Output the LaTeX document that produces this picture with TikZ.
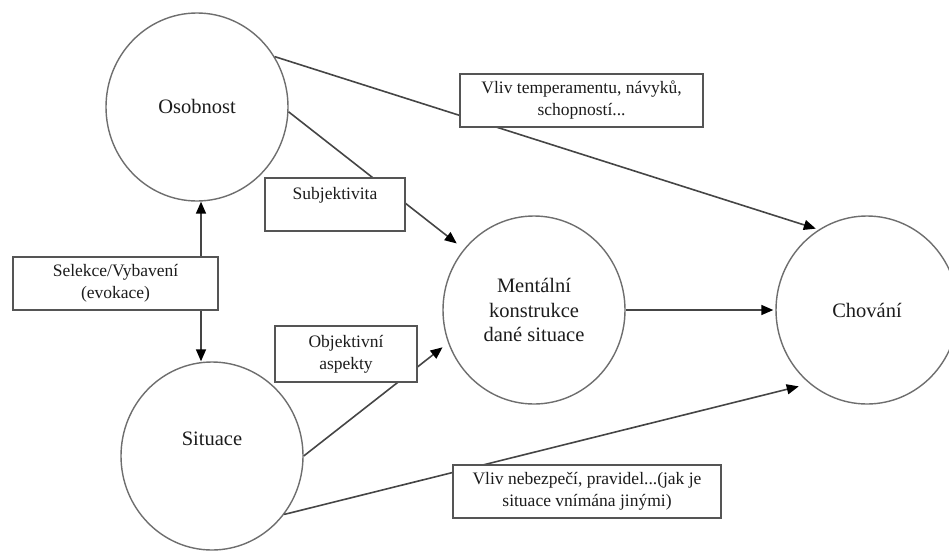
\documentclass[tikz,border=0pt]{standalone}
\usepackage{fontspec}
\setmainfont{Liberation Serif}
\usetikzlibrary{arrows.meta,shapes.geometric}
\definecolor{circ}{HTML}{6E6E6E}
\definecolor{connc}{HTML}{454545}
\definecolor{boxc}{HTML}{555555}
\definecolor{txt}{HTML}{1C1C1C}
\begin{document}
\begin{tikzpicture}[x=1pt,y=-1pt,
  ell/.style={ellipse,draw=circ,line width=1.4pt,fill=white,minimum width=182pt,minimum height=188pt,inner sep=0pt},
  ctext/.style={text=txt,font=\fontsize{20.5}{24.5}\selectfont,align=center},
  lbox/.style={draw=boxc,line width=1.6pt,fill=white,text=txt,font=\fontsize{17.5}{22}\selectfont,align=center,inner sep=0pt},
  connline/.style={draw=connc,line width=1.6pt},
  tip/.tip={Triangle[length=12pt,width=10pt,color=black]},
  arr/.style={connline,-tip},
  biarr/.style={connline,tip-tip}]
\useasboundingbox (0,0) rectangle (949,552);
% circles
\node[ell] (oso) at (197,107) {};
\node[ctext] (osol) at (197,106) {Osobnost};
\node[ell] (sit) at (212,456) {};
\node[ctext] (sitl) at (212,439) {Situace};
\node[ell,ctext] (men) at (534,310) {Mentální\\konstrukce\\dané situace};
\node[ell,ctext] (cho) at (867,310) {Chování};
\coordinate (vx) at (201,0);
% connectors
\draw[arr,shorten >=3pt] (oso.33) -- (cho.121);
\draw[arr,shorten >=9pt] (oso.-3) -- (men.139.5);
\draw[arr,shorten >=7pt] (sit.0) -- (men.201);
\draw[arr,shorten >=11pt] (sit.-39) -- (cho.232);
\draw[arr,shorten >=2pt] (men.0) -- (cho.180);
\draw[biarr] (oso.south -| vx) -- (sit.north -| vx);
% label boxes
\node[lbox,minimum width=243pt,minimum height=53pt] (temp) at (581.5,100.5) {Vliv temperamentu, návyků,\\schopností...};
\node[lbox,minimum width=140pt,minimum height=53pt] (subj) at (335,204.5) {Subjektivita\\\mbox{}};
\node[lbox,minimum width=205pt,minimum height=53pt] (sel) at (115.5,283.5) {Selekce/Vybavení\\(evokace)};
\node[lbox,minimum width=142pt,minimum height=56pt] (obj) at (346,354) {Objektivní\\aspekty};
\node[lbox,minimum width=268pt,minimum height=53pt] (neb) at (587,491.5) {Vliv nebezpečí, pravidel...(jak je\\situace vnímána jinými)};
\end{tikzpicture}
\end{document}
